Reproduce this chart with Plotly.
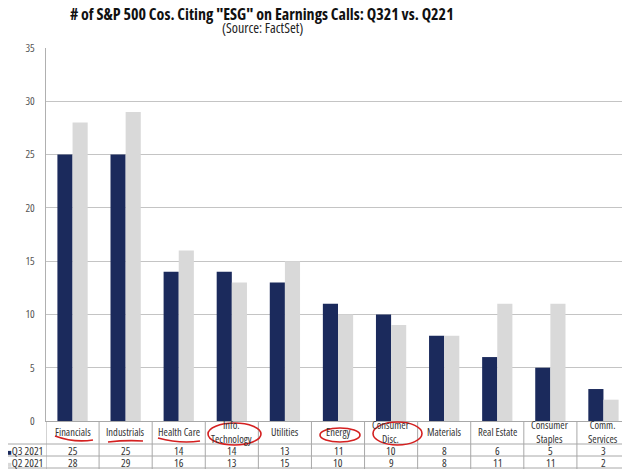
import plotly.graph_objects as go

categories = ["Financials", "Industrials", "Health Care", "Info.<br>Technology", "Utilities",
              "Energy", "Consumer<br>Disc.", "Materials", "Real Estate", "Consumer<br>Staples",
              "Comm.<br>Services"]
q3_2021 = [25, 25, 14, 14, 13, 11, 10, 8, 6, 5, 3]
q2_2021 = [28, 29, 16, 13, 15, 10, 9, 8, 11, 11, 2]
series_names = ["Q3 2021", "Q2 2021"]
y_ticks = [0, 5, 10, 15, 20, 25, 30, 35]

NAVY = "#1b2a5c"
LGRAY = "#d9d9d9"
OFF = 8  # page body margin
W, H = 630 - OFF, 469 - OFF
L, R, T, B = 46 - OFF, 0, 48 - OFF, 48
PW, PH = W - L - R, H - T - B
OS = "Open Sans, Liberation Sans, sans-serif"


def px(x):
    return (x - OFF - L) / PW


def py(y):
    return (H - B - (y - OFF)) / PH


def cond(t, pct=80):
    return f"<span style='font-stretch:{pct}%'>{t}</span>"


xs = list(range(len(categories)))

fig = go.Figure()
fig.add_bar(x=xs, y=q3_2021, name=series_names[0], marker=dict(color=NAVY, line_width=0))
fig.add_bar(x=xs, y=q2_2021, name=series_names[1], marker=dict(color=LGRAY, line_width=0))

shapes = []
annotations = []

# table grid lines
tc = "#a8a8a8"
for yy in [444, 456, 468]:
    shapes.append(dict(type="line", xref="paper", yref="paper", x0=px(1), x1=px(630),
                       y0=py(yy), y1=py(yy), line=dict(color=tc, width=1)))
for k in range(len(categories) + 1):
    shapes.append(dict(type="line", xref="x", yref="paper", x0=k - 0.5, x1=k - 0.5,
                       y0=py(421), y1=py(469), line=dict(color=tc, width=1)))

tf = dict(size=11, color="#333", family=OS)
cf = dict(size=10.5, color="#333", family=OS)
# table text
for i, c in enumerate(categories):
    lines = c.split("<br>")
    annotations.append(dict(x=i, y=py(432), xref="x", yref="paper",
                            text="<br>".join(cond(s, 84) for s in lines),
                            showarrow=False, font=cf, xanchor="center", yanchor="middle"))
    annotations.append(dict(x=i, y=py(450), xref="x", yref="paper", text=cond(q3_2021[i]),
                            showarrow=False, font=tf, xanchor="center", yanchor="middle"))
    annotations.append(dict(x=i, y=py(462), xref="x", yref="paper", text=cond(q2_2021[i]),
                            showarrow=False, font=tf, xanchor="center", yanchor="middle"))
for name, col, yy in [(series_names[0], NAVY, 450), (series_names[1], LGRAY, 462)]:
    annotations.append(dict(x=px(25), y=py(yy), xref="paper", yref="paper",
                            text=f"<span style='color:{col};font-size:8px'>■</span>" + cond(name),
                            showarrow=False, font=tf, xanchor="center", yanchor="middle"))

# titles
annotations.append(dict(x=px(262), y=py(14), xref="paper", yref="paper",
                        text=cond("<b># of S&P 500 Cos. Citing \"ESG\" on Earnings Calls: Q321 vs. Q221</b>", 80),
                        showarrow=False, font=dict(size=16, color="#111", family=OS),
                        xanchor="center", yanchor="middle"))
annotations.append(dict(x=px(262), y=py(28), xref="paper", yref="paper",
                        text=cond("(Source: FactSet)", 87), showarrow=False,
                        font=dict(size=14, color="#222", family=OS),
                        xanchor="center", yanchor="middle"))

# hand-drawn red marks
red = dict(color="#d42020", width=1.6)


def path_px(pts):
    (x0, y0), (cx, cy), (x1, y1) = pts
    return f"M {px(x0)},{py(y0)} Q {px(cx)},{py(cy)} {px(x1)},{py(y1)}"


for pts in [((55, 436), (74, 443), (93, 440)),
            ((108, 442), (126, 440), (143, 441)),
            ((158, 438), (180, 444), (200, 441))]:
    shapes.append(dict(type="path", xref="paper", yref="paper", path=path_px(pts), line=red))
for (x0, y0, x1, y1) in [(208, 423, 261, 445), (320, 428, 360, 442), (373, 422, 422, 445)]:
    shapes.append(dict(type="circle", xref="paper", yref="paper", x0=px(x0), x1=px(x1),
                       y0=py(y1), y1=py(y0), line=red))

fig.update_layout(
    width=W, height=H, margin=dict(l=L, r=R, t=T, b=B),
    paper_bgcolor="white", plot_bgcolor="white",
    barmode="group", bargap=0.43, bargroupgap=0,
    showlegend=False,
    xaxis=dict(range=[-0.5, len(categories) - 0.5], showticklabels=False, showgrid=False,
               zeroline=False, showline=True, linecolor=tc, ticks=""),
    yaxis=dict(range=[0, 35], tickvals=y_ticks, ticktext=[cond(v) for v in y_ticks],
               showgrid=True, gridcolor="#c4c4c4",
               gridwidth=1, zeroline=False, showline=True, linecolor="#b0b0b0",
               ticks="", ticklabelstandoff=8,
               tickfont=dict(size=11, color="#555", family=OS)),
    shapes=shapes, annotations=annotations,
)

fig.write_html("out.html")
